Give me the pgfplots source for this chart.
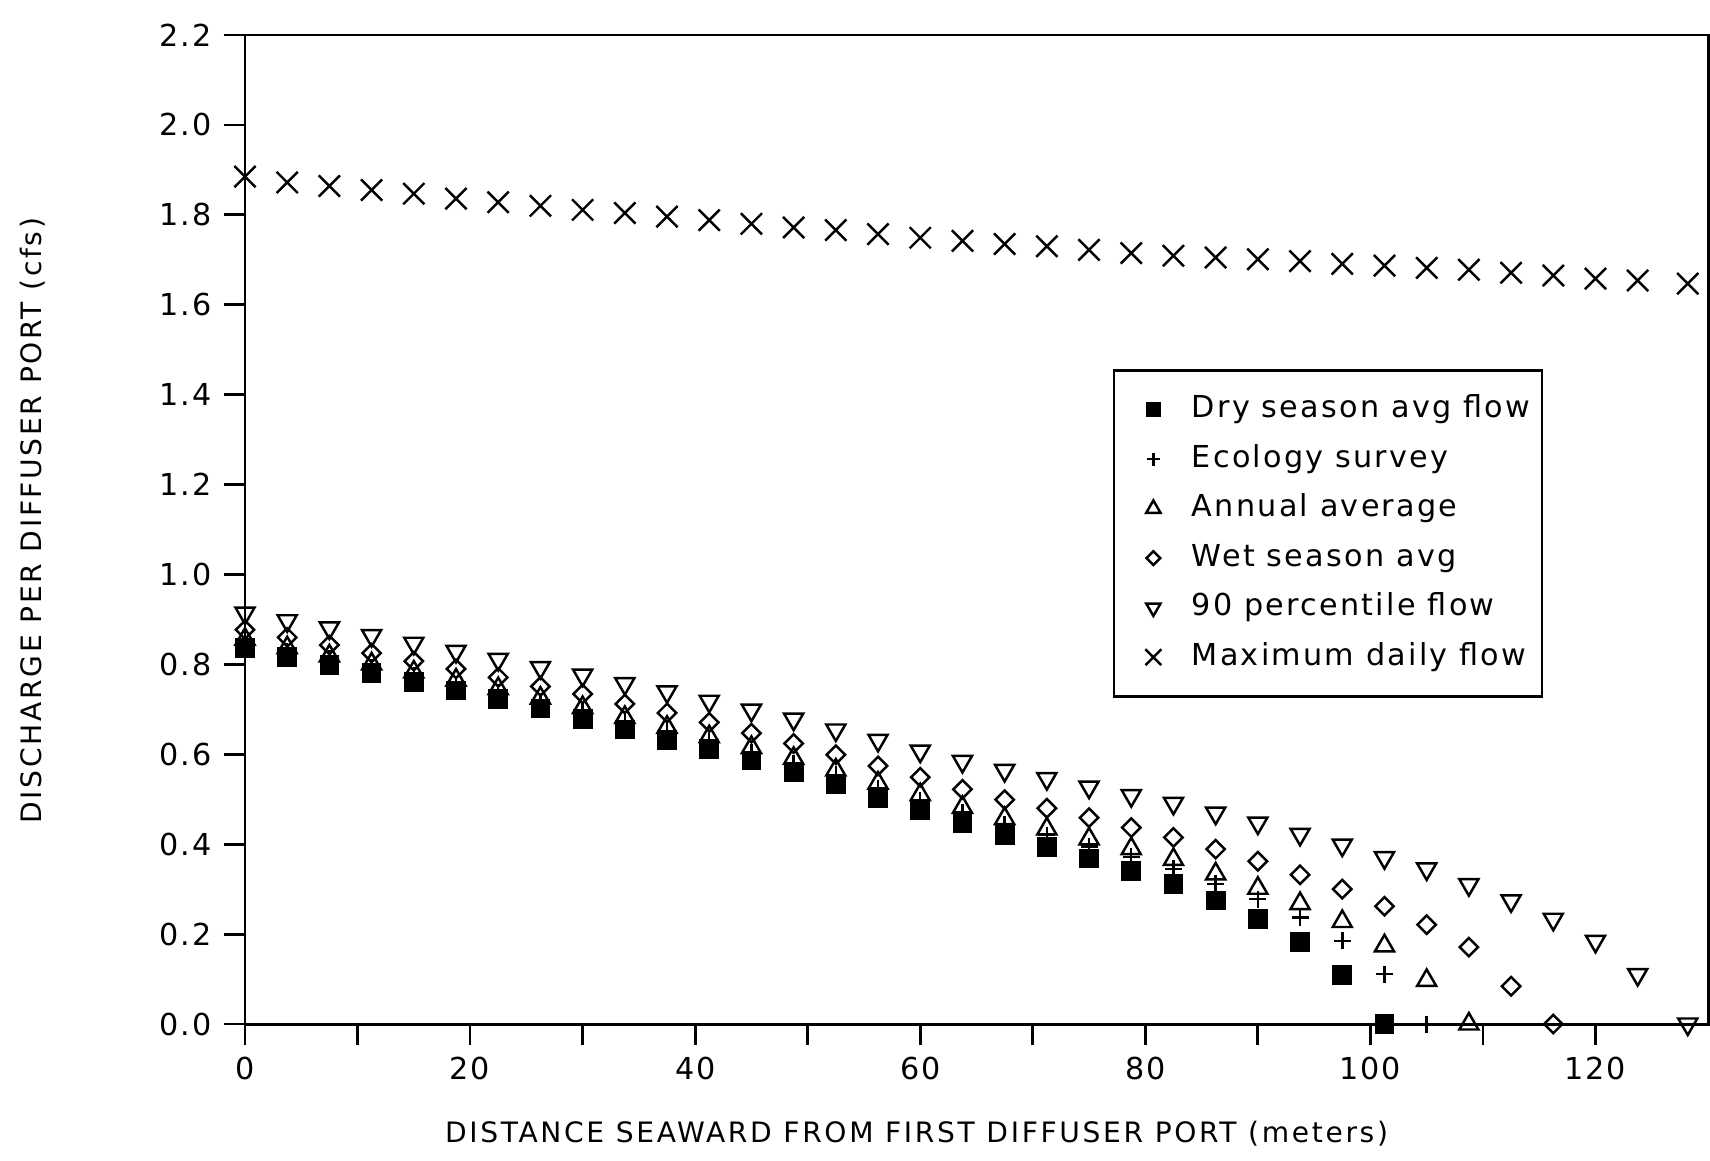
\documentclass[border=0pt]{standalone}
\usepackage{fontspec}
\setmainfont{DejaVu Sans}
\newfontfamily\labelfont[LetterSpace=9.5]{DejaVu Sans}
\newfontfamily\tickfont[LetterSpace=6]{DejaVu Sans}
\newfontfamily\legfont[LetterSpace=7.5]{DejaVu Sans}
\usepackage{pgfplots}
\usepackage{pgfplotstable}
\pgfplotsset{compat=1.18}

\pgfplotstableread{
x dry eco ann wet pnin max
0 0.837 0.849 0.856 0.877 0.914 1.885
3.75 0.816 0.829 0.837 0.860 0.897 1.872
7.5 0.798 0.812 0.819 0.843 0.881 1.864
11.25 0.780 0.794 0.801 0.825 0.864 1.855
15 0.761 0.775 0.783 0.807 0.847 1.847
18.75 0.742 0.756 0.765 0.790 0.829 1.836
22.5 0.723 0.737 0.746 0.771 0.811 1.828
26.25 0.702 0.717 0.725 0.751 0.793 1.820
30 0.678 0.695 0.704 0.734 0.776 1.811
33.75 0.655 0.672 0.682 0.712 0.757 1.804
37.5 0.632 0.650 0.660 0.692 0.739 1.796
41.25 0.611 0.629 0.639 0.671 0.718 1.788
45 0.586 0.604 0.615 0.647 0.698 1.780
48.75 0.561 0.580 0.591 0.624 0.678 1.772
52.5 0.534 0.554 0.565 0.599 0.654 1.766
56.25 0.503 0.524 0.536 0.574 0.631 1.757
60 0.475 0.497 0.510 0.549 0.607 1.749
63.75 0.447 0.470 0.482 0.522 0.584 1.742
67.5 0.420 0.444 0.457 0.499 0.564 1.735
71.25 0.394 0.420 0.434 0.480 0.546 1.730
75 0.368 0.395 0.412 0.459 0.527 1.722
78.75 0.340 0.372 0.390 0.437 0.508 1.715
82.5 0.311 0.345 0.366 0.415 0.491 1.709
86.25 0.275 0.312 0.334 0.389 0.469 1.705
90 0.234 0.278 0.302 0.362 0.447 1.701
93.75 0.183 0.237 0.268 0.332 0.422 1.697
97.5 0.109 0.185 0.228 0.300 0.398 1.691
101.25 0 0.111 0.174 0.262 0.370 1.687
105 nan 0 0.097 0.221 0.345 1.682
108.75 nan nan 0 0.171 0.310 1.678
112.5 nan nan nan 0.084 0.274 1.671
116.25 nan nan nan 0 0.233 1.665
120 nan nan nan nan 0.184 1.658
123.75 nan nan nan nan 0.110 1.654
128.2 nan nan nan nan 0 1.647
}\flows

\begin{document}
\begin{tikzpicture}
\useasboundingbox (-24.5mm,-13.6mm) rectangle (146.5mm,102.4mm);
\begin{axis}[
  at={(0,0)}, anchor=south west,
  scale only axis, width=146.3mm, height=98.9mm,
  xmin=0, xmax=130, ymin=0, ymax=2.2,
  clip=false,
  axis line style={line width=0.85pt, black},
  tick style={line width=0.8pt, black},
  tick align=outside, tick pos=left,
  major tick length=2.1mm, minor tick length=2.1mm,
  xtick={0,20,40,60,80,100,120},
  minor xtick={10,30,50,70,90,110},
  ytick={0,0.2,0.4,0.6,0.8,1.0,1.2,1.4,1.6,1.8,2.0,2.2},
  minor ytick={},
  /pgf/number format/assume math mode=true,
  yticklabel style={/pgf/number format/.cd, fixed, fixed zerofill, precision=1},
  ticklabel style={font=\tickfont\fontsize{8.6}{10}\selectfont},
  xlabel={DISTANCE SEAWARD FROM FIRST DIFFUSER PORT (meters)},
  ylabel={DISCHARGE PER DIFFUSER PORT (cfs)},
  label style={font=\labelfont\fontsize{8}{9}\selectfont},
  xlabel style={at={(axis description cs:0.459,-0.1112)}, anchor=center},
  ylabel style={at={(axis description cs:-0.1449,0.509)}, anchor=center},
  legend style={at={(0.593,0.662)}, anchor=north west, draw=black, line width=0.8pt,
    font=\legfont\fontsize{8.6}{10}\selectfont, inner xsep=0.8mm, inner ysep=1.9mm,
    row sep=0.95mm, cells={anchor=west},
    nodes={inner sep=0.4mm, text height=2.4mm, text depth=0.8mm}},
  legend image code/.code={%
    \path (0mm,0mm) (6.3mm,0mm);
    \draw[#1, only marks, every mark/.append style={scale=0.75}] plot coordinates {(3mm,0mm)};},
]
\addplot[only marks, mark=square*, mark size=0.9mm, mark options={line width=0.5pt, draw=black, fill=black}] table[x=x, y=dry] {\flows};
\addlegendentry{Dry season avg flow}
\addplot[only marks, mark=+, mark size=0.85mm, mark options={line width=0.7pt, draw=black}] table[x=x, y=eco] {\flows};
\addlegendentry{Ecology survey}
\addplot[only marks, mark=triangle, mark size=1.1mm, mark options={line width=0.7pt, draw=black}] table[x=x, y=ann] {\flows};
\addlegendentry{Annual average}
\addplot[only marks, mark=square, mark size=0.65mm, mark options={rotate=45, line width=0.7pt, draw=black}] table[x=x, y=wet] {\flows};
\addlegendentry{Wet season avg}
\addplot[only marks, mark=triangle, mark size=1.1mm, mark options={rotate=180, line width=0.7pt, draw=black}] table[x=x, y=pnin] {\flows};
\addlegendentry{90 percentile flow}
\addplot[only marks, mark=x, mark size=1.5mm, mark options={line width=0.7pt, draw=black}] table[x=x, y=max] {\flows};
\addlegendentry{Maximum daily flow}
\end{axis}
\end{tikzpicture}
\end{document}
